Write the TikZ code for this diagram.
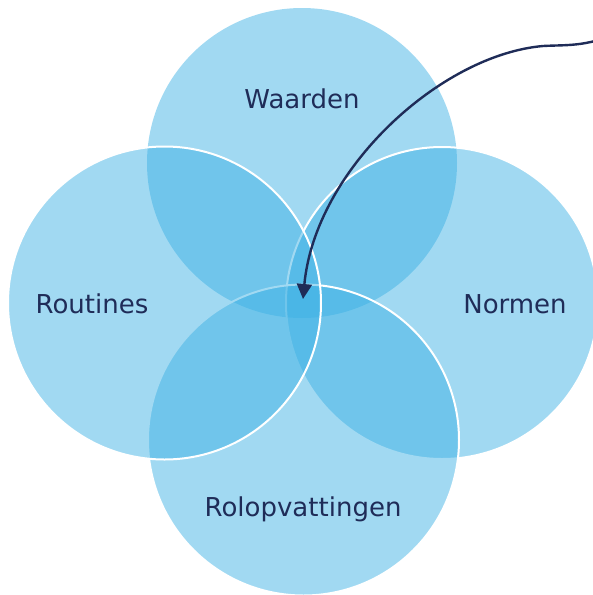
\documentclass[tikz,border=0pt]{standalone}
\usepackage{fontspec}
\setmainfont{DejaVu Sans}
\usetikzlibrary{arrows.meta}
\definecolor{vblue}{RGB}{59,176,228}
\definecolor{navy}{RGB}{31,44,88}
\tikzset{
  blob/.style={fill=vblue, fill opacity=0.48},
  blobline/.style={blob, draw=white, draw opacity=1, line width=2pt},
  lbl/.style={text=navy, font=\fontsize{26}{30}\selectfont, anchor=base, inner sep=0pt},
  pointer/.style={draw=navy, line width=2.4pt, -{Triangle[width=15pt,length=15pt]}}
}
\begin{document}
\begin{tikzpicture}[x=1pt,y=-1pt]
\useasboundingbox (0,0) rectangle (593,595);
\fill[blob] (302,163) circle (155);
\filldraw[blobline] (442,303) circle (156);
\filldraw[blobline] (303.5,440) circle (155.5);
\filldraw[blobline] (164.5,303) circle (156.5);
\node[lbl] (w) at (302,108) {Waarden};
\node[lbl] (r) at (92,313) {Routines};
\node[lbl] (n) at (515,313) {Normen};
\node[lbl] (ro) at (303,516) {Rolopvattingen};
\coordinate (s) at (595,41);
\coordinate (m) at (543,46);
\coordinate (t) at (303,299);
\draw[pointer] (s) .. controls (575,46) and (562,45) .. (m)
  .. controls (440,55) and (315,170) .. (t);
\end{tikzpicture}
\end{document}
